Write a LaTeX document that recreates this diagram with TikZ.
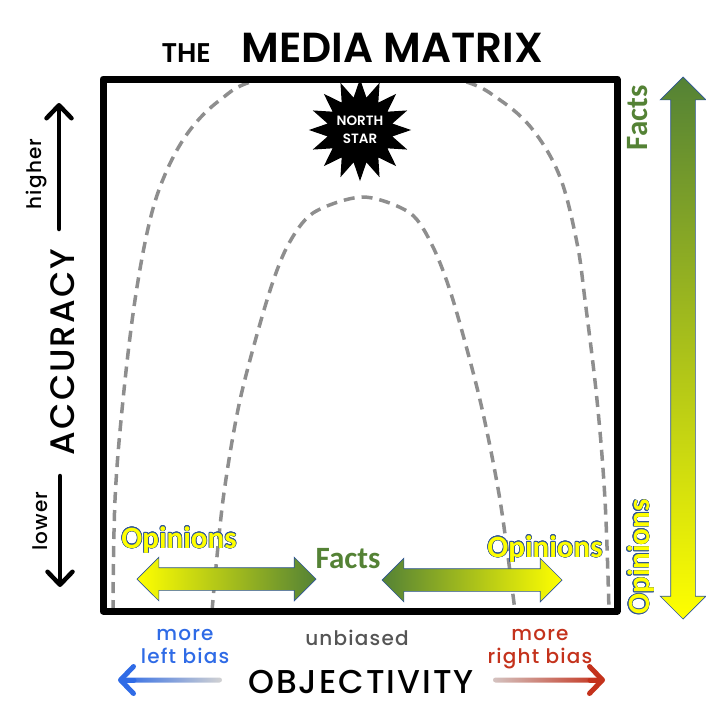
\documentclass[tikz,border=0pt]{standalone}
\usepackage{fontspec}
\usepackage{contour}
\usepackage{tikz}
\usetikzlibrary{arrows.meta, positioning, shapes.geometric, shapes.arrows}

\newfontfamily\handfont{Poppins}[UprightFont={* Medium}, BoldFont={* SemiBold}]
\newfontfamily\handwide{Poppins}[UprightFont={* Medium}, LetterSpace=6]
\newfontfamily\officefont{Carlito}

\definecolor{factgreen}{HTML}{548235}
\definecolor{opinionyellow}{HTML}{FFFF00}
\definecolor{outlineblue}{HTML}{2F5597}
\definecolor{leftblue}{HTML}{2F6BE6}
\definecolor{rightred}{HTML}{C4321C}
\definecolor{neutralgray}{HTML}{555555}
\definecolor{dashgray}{HTML}{8E8E8E}

\contourlength{0.6pt}

\begin{document}
\begin{tikzpicture}[
      x=1pt, y=-1pt,
      title big/.style={font=\handfont\bfseries\fontsize{42}{42}\selectfont, anchor=base west},
      title small/.style={font=\handfont\bfseries\fontsize{27}{27}\selectfont, anchor=base west},
      axis name/.style={font=\handwide\fontsize{34}{34}\selectfont},
      axis hint/.style={font=\handwide\fontsize{20}{23}\selectfont, align=center},
      opinion/.style={font=\officefont\bfseries\fontsize{31}{31}\selectfont, text=opinionyellow},
      fact/.style={font=\officefont\bfseries\fontsize{31}{31}\selectfont, text=factgreen},
      dblarrow/.style={double arrow, double arrow head extend=10.5pt, inner xsep=0pt,
        inner ysep=11pt, draw=outlineblue, line width=0.7pt},
      guide/.style={draw=dashgray, line width=3.5pt, dash pattern=on 11pt off 7pt},
      axisarrow/.style={line width=4.5pt, line cap=round, -{Straight Barb[length=13pt, width=25pt, round]}},
      biasarrow/.style={line width=5pt, line cap=round, -{Straight Barb[length=13pt, width=27pt, round]}}
    ]
      \useasboundingbox (0,0) rectangle (706,720);

      % title
      \node[title small] (the) at (158,62) {THE};
      \node[title big] (mediamatrix) at (238,62) {MEDIA MATRIX};

      % dashed bands, clipped to the frame
      \begin{scope}
        \clip (103,79) rectangle (617,611);
        \draw[guide] plot[smooth, tension=0.6] coordinates {(113,611) (115,500) (123,400) (135,300)
          (150,220) (167,170) (190,130) (220,100) (257,80) (360,60) (460,80) (500,100) (533,130)
          (560,177) (577,243) (585,300) (597,400) (605,500) (609,611)};
        \draw[guide] plot[smooth] coordinates {(212,611) (223,500) (240,400) (267,300) (287,247)
          (313,213) (363,197) (410,213) (433,247) (453,300) (480,400) (500,500) (515,611)};
      \end{scope}

      % frame
      \node[draw, line width=7pt, line join=round, inner sep=0pt,
        minimum width=514pt, minimum height=532pt] (frame) at (360,345) {};

      \node[star, star points=16, star point ratio=1.55, fill=black, minimum size=86pt,
        inner sep=0pt, text=white, align=center, font=\handfont\bfseries\fontsize{13.5}{18}\selectfont]
        (northstar) at (360,130) {NORTH\\STAR};

      % accuracy axis
      \node[axis name, rotate=90] (accuracy) at (63,352) {ACCURACY};
      \node[axis hint, rotate=90] (higher) at (37,174) {higher};
      \node[axis hint, rotate=90] (lower) at (40,521) {lower};
      \coordinate (up from) at (59,229);
      \coordinate (up to) at (59,103);
      \coordinate (down from) at (60,476);
      \coordinate (down to) at (60,587);
      \draw[axisarrow] (up from) -- (up to);
      \draw[axisarrow] (down from) -- (down to);

      % facts / opinions scale on the right
      \node[dblarrow, rotate=90, inner ysep=12pt, minimum height=542pt,
        top color=factgreen, bottom color=opinionyellow] (factscale) at (683,348) {};
      \node[fact, rotate=90] (factstop) at (638,118) {Facts};
      \node[opinion, rotate=90] (opinionsbottom) at (641,557) {\contour{outlineblue}{Opinions}};

      % facts / opinions along the bottom
      \node[dblarrow, minimum height=179pt, left color=opinionyellow,
        middle color=opinionyellow!60!factgreen, right color=factgreen] (leftscale) at (226.5,579) {};
      \node[dblarrow, minimum height=180pt, left color=factgreen,
        middle color=opinionyellow!60!factgreen, right color=opinionyellow] (rightscale) at (472,580) {};
      \node[opinion, anchor=base] (opinionsleft) at (179,548) {\contour{outlineblue}{Opinions}};
      \node[fact, anchor=base] (factsmid) at (348,568) {Facts};
      \node[opinion, anchor=base] (opinionsright) at (545,557) {\contour{outlineblue}{Opinions}};

      % objectivity axis
      \node[axis hint, text=neutralgray, anchor=base] (unbiased) at (357,645) {unbiased};
      \node[axis hint, text=leftblue] (leftbias) at (185,646) {more\\left bias};
      \node[axis hint, text=rightred] (rightbias) at (540,649) {more\\right bias};
      \node[axis name, anchor=base, font=\handwide\fontsize{33}{33}\selectfont] (objectivity) at (361,693) {OBJECTIVITY};

      \coordinate (leftbias head) at (134,680);
      \coordinate (leftbias tip) at (118,680);
      \coordinate (rightbias head) at (590,680);
      \coordinate (rightbias tip) at (605,680);
      \shade[left color=leftblue, right color=gray!35, rounded corners=2.5pt] (121,677.5) rectangle (222,682.5);
      \shade[left color=rightred!30!gray!40, right color=rightred, rounded corners=2.5pt] (493,677.5) rectangle (602,682.5);
      \draw[biasarrow, leftblue] (leftbias head) -- (leftbias tip);
      \draw[biasarrow, rightred] (rightbias head) -- (rightbias tip);
    \end{tikzpicture}
\end{document}
